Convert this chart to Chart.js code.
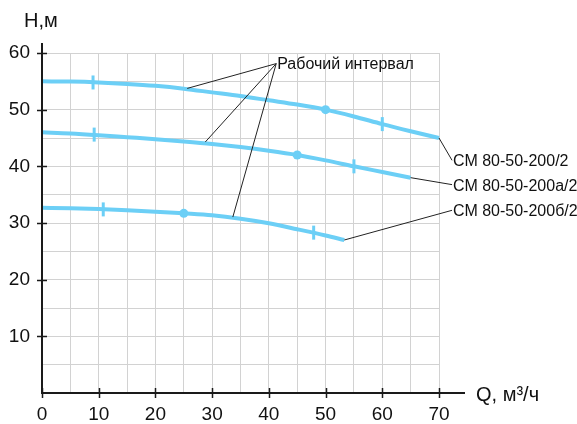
<!DOCTYPE html>
<html>
<head>
<meta charset="utf-8">
<script src="https://cdn.jsdelivr.net/npm/chart.js@4/dist/chart.umd.min.js"></script>
<style>
html,body{margin:0;padding:0;background:#fff;}
canvas{display:block;}
</style>
</head>
<body>
<canvas id="c" width="577" height="424"></canvas>
<script>
// ---- data ----
const seriesNames = ['СМ 80-50-200/2', 'СМ 80-50-200а/2', 'СМ 80-50-200б/2'];
const q1 = [0, 5, 10, 15, 20, 25, 30, 35, 40, 45, 50, 55, 60, 65, 70];
const h1 = [55.0, 54.95, 54.8, 54.55, 54.2, 53.7, 53.05, 52.4, 51.65, 50.9, 50.0, 48.8, 47.45, 46.2, 45.0];
const q2 = [0, 5, 10, 15, 20, 25, 30, 35, 40, 45, 50, 55, 60, 65];
const h2 = [46.0, 45.8, 45.5, 45.15, 44.8, 44.4, 43.95, 43.4, 42.75, 42.0, 41.05, 40.0, 39.0, 38.0];
const q3 = [0, 5, 10, 15, 20, 25, 30, 35, 40, 45, 50, 53.3];
const h3 = [32.7, 32.6, 32.45, 32.25, 32.0, 31.7, 31.35, 30.75, 29.95, 28.9, 27.8, 27.0];
// optimum points (dots)
const dotQ = [50, 45, 25];
const dotH = [50.0, 42.0, 31.7];
// working interval limits (ticks)
const tickQ = [9, 60, 9.2, 55, 10.8, 47.9];
const tickH = [54.8, 47.45, 45.6, 40.0, 32.4, 28.3];
// axis tick labels
const xTickLabels = [0, 10, 20, 30, 40, 50, 60, 70];
const yTickLabels = [10, 20, 30, 40, 50, 60];
const annotationText = 'Рабочий интервал';
const xTitle = 'Q, м³/ч';
const yTitle = 'H,м';
// annotation leader targets on the curves (Q, H)
const intervalTargetQ = [25.6, 28.8, 33.65];
const intervalTargetH = [53.75, 44.3, 31.05];

// ---- styles ----
const BLUE = '#6ccff6';
const FONT = '"Liberation Sans", Arial, sans-serif';
const TXT = '#111';

function zip(a, b) { return a.map((v, i) => ({x: v, y: b[i]})); }

const curveStyle = {
  showLine: true, borderColor: BLUE, borderWidth: 4, pointRadius: 0,
  cubicInterpolationMode: 'monotone', clip: false, fill: false, order: 2
};

const decor = {
  id: 'decor',
  afterDraw(chart) {
    const ctx = chart.ctx;
    const xs = chart.scales.x, ys = chart.scales.y;
    const X = v => xs.getPixelForValue(v), Y = v => ys.getPixelForValue(v);
    const L = chart.chartArea.left, B = chart.chartArea.bottom, T = chart.chartArea.top;
    ctx.save();
    // axes
    ctx.strokeStyle = '#1a1a1a';
    ctx.lineWidth = 2;
    ctx.beginPath();
    ctx.moveTo(L, T - 10); ctx.lineTo(L, B + 1);
    ctx.moveTo(L - 1, B); ctx.lineTo(X(70) + 26, B);
    ctx.stroke();
    ctx.lineWidth = 1.5;
    ctx.beginPath();
    yTickLabels.forEach(v => { const y = Math.round(Y(v)) + 0.5; ctx.moveTo(L - 5, y); ctx.lineTo(L + 5, y); });
    xTickLabels.forEach(v => { const x = Math.round(X(v)) + 0.5; ctx.moveTo(x, B - 5); ctx.lineTo(x, B + 5); });
    ctx.stroke();

    // axis titles
    ctx.fillStyle = TXT;
    ctx.textBaseline = 'middle';
    ctx.textAlign = 'left';
    ctx.font = '20px ' + FONT;
    ctx.fillText(yTitle, 24, 21);
    ctx.fillText(xTitle, 476, 395);

    // working interval annotation
    const ax = X(41.3), ay = Y(58.13);
    ctx.strokeStyle = '#222';
    ctx.lineWidth = 1;
    ctx.beginPath();
    intervalTargetQ.forEach((q, i) => { ctx.moveTo(ax, ay); ctx.lineTo(X(q), Y(intervalTargetH[i])); });
    ctx.stroke();
    ctx.font = '16px ' + FONT;
    ctx.fillText(annotationText, ax + 1, ay + 0.5);

    // series labels
    const ends = [[q1[q1.length-1], h1[h1.length-1]], [q2[q2.length-1], h2[h2.length-1]], [q3[q3.length-1], h3[h3.length-1]]];
    const labH = [41.06, 36.77, 32.24];
    ctx.beginPath();
    ends.forEach((e, i) => { ctx.moveTo(X(e[0]), Y(e[1])); ctx.lineTo(X(72.3), Y(labH[i])); });
    ctx.stroke();
    seriesNames.forEach((n, i) => ctx.fillText(n, X(72.3) + 1, Y(labH[i]) + 1.5));
    ctx.restore();
  }
};

new Chart(document.getElementById('c'), {
  type: 'scatter',
  data: {
    datasets: [
      Object.assign({label: seriesNames[0], data: zip(q1, h1)}, curveStyle),
      Object.assign({label: seriesNames[1], data: zip(q2, h2)}, curveStyle),
      Object.assign({label: seriesNames[2], data: zip(q3, h3)}, curveStyle),
      {label: 'opt', data: zip(dotQ, dotH), pointRadius: 4.5, pointHoverRadius: 4.5,
       backgroundColor: BLUE, borderColor: BLUE, borderWidth: 0, showLine: false, clip: false, order: 1},
      {label: 'limits', data: zip(tickQ, tickH), pointStyle: 'line', rotation: 90, pointRadius: 7,
       pointHoverRadius: 7, borderColor: BLUE, borderWidth: 3, showLine: false, clip: false, order: 1}
    ]
  },
  options: {
    responsive: false,
    animation: false,
    devicePixelRatio: 1,
    layout: {padding: {left: 0, top: 53, right: 138, bottom: 0}},
    plugins: {legend: {display: false}, tooltip: {enabled: false}},
    events: [],
    scales: {
      x: {
        type: 'linear', min: 0, max: 70,
        border: {display: false},
        grid: {color: '#d2d2d2', lineWidth: 1, drawTicks: false},
        ticks: {
          stepSize: 5, autoSkip: false, maxRotation: 0, padding: 10,
          color: TXT, font: {family: FONT, size: 19},
          callback: v => xTickLabels.includes(v) ? String(v) : ''
        },
        afterFit: s => { s.height = 31; }
      },
      y: {
        type: 'linear', min: 0, max: 60,
        border: {display: false},
        grid: {color: '#d2d2d2', lineWidth: 1, drawTicks: false},
        ticks: {
          stepSize: 5, autoSkip: false, padding: 12,
          color: TXT, font: {family: FONT, size: 19},
          callback: v => yTickLabels.includes(v) ? String(v) : ''
        },
        afterFit: s => { s.width = 42; }
      }
    }
  },
  plugins: [decor]
});
</script>
</body>
</html>
